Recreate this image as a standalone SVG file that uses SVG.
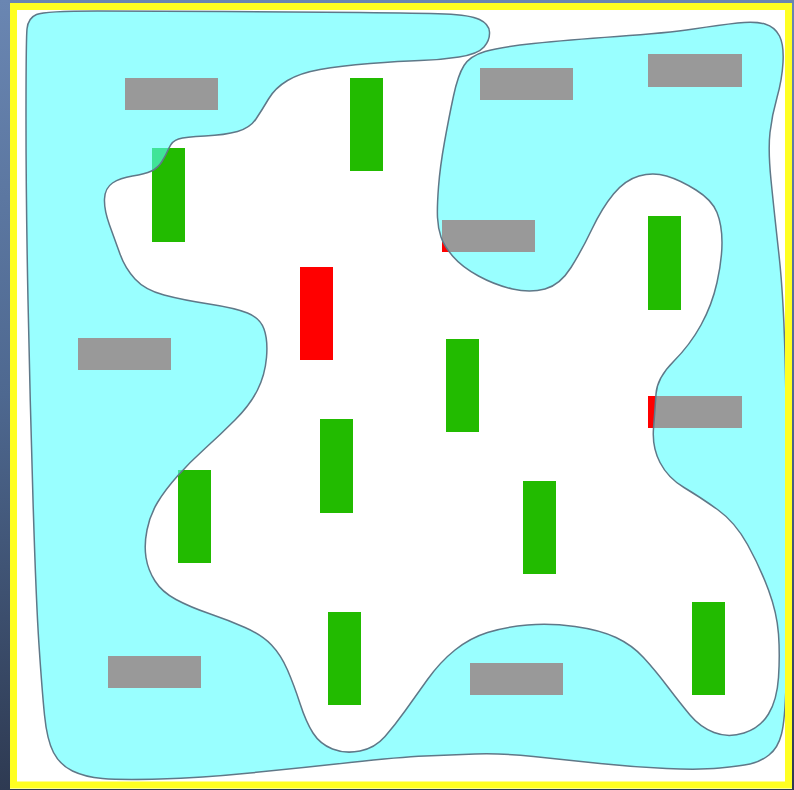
<svg xmlns="http://www.w3.org/2000/svg" width="794" height="790" viewBox="0 0 794 790">
<defs>
<linearGradient id="bg" x1="0" y1="0" x2="0" y2="1">
<stop offset="0" stop-color="#6a86b2"/>
<stop offset="0.5" stop-color="#4e6890"/>
<stop offset="1" stop-color="#2e3a52"/>
</linearGradient>
<style>
.g{fill:#22bb00}
.r{fill:#ff0000}
.zone{fill:#55ffff;fill-opacity:0.6;stroke:#5f7888;stroke-width:1.5;stroke-linejoin:round}
</style>
</defs>
<rect x="0" y="0" width="794" height="790" fill="url(#bg)"/>
<rect x="10" y="3" width="782" height="786" fill="#ffffff"/>
<g id="items">
<g id="green1"><rect class="g" x="350" y="78" width="33" height="93"/></g>
<g id="green2"><rect class="g" x="152" y="148" width="33" height="94"/></g>
<g id="green3"><rect class="g" x="648" y="216" width="33" height="94"/></g>
<g id="green4"><rect class="g" x="446" y="339" width="33" height="93"/></g>
<g id="green5"><rect class="g" x="320" y="419" width="33" height="94"/></g>
<g id="green6"><rect class="g" x="178" y="470" width="33" height="93"/></g>
<g id="green7"><rect class="g" x="523" y="481" width="33" height="93"/></g>
<g id="green8"><rect class="g" x="328" y="612" width="33" height="93"/></g>
<g id="green9"><rect class="g" x="692" y="602" width="33" height="93"/></g>
<g id="red0"><rect class="r" x="300" y="267" width="33" height="93"/></g>
<g id="red1"><rect class="r" x="125" y="78" width="93" height="32"/></g>
<g id="red2"><rect class="r" x="480" y="68" width="93" height="32"/></g>
<g id="red3"><rect class="r" x="648" y="54" width="94" height="33"/></g>
<g id="red4"><rect class="r" x="442" y="220" width="93" height="32"/></g>
<g id="red5"><rect class="r" x="78" y="338" width="93" height="32"/></g>
<g id="red6"><rect class="r" x="648" y="396" width="94" height="32"/></g>
<g id="red7"><rect class="r" x="108" y="656" width="93" height="32"/></g>
<g id="red8"><rect class="r" x="470" y="663" width="93" height="32"/></g>
</g>
<g id="zone">
<path class="zone" d="M26,120 Q26,40 27,29 Q28,18 36.5,14.5 Q45,11 97.5,11 Q150,11 225,11.5 Q300,12 360,12.5 Q420,13 445,14 Q470,15 479.5,19.5 Q489,24 489.5,32 Q490,40 484,47 Q478,54 459,57 Q440,60 420,60.5 Q400,61 370,63.5 Q340,66 320,69.5 Q300,73 287.5,80.5 Q275,88 268.5,99 Q262,110 256,119 Q250,128 237.5,131.5 Q225,135 205,136 Q185,137 178.5,139 Q172,141 169,148 Q166,155 162,161.5 Q158,168 151.5,171 Q145,174 132.5,176 Q120,178 112.5,183 Q105,188 104.5,199 Q104,210 109.5,225 Q115,240 120,254 Q125,268 135,279 Q145,290 164,295 Q183,300 209,304 Q235,308 247.5,313 Q260,318 264,329 Q268,340 266.5,357.5 Q265,375 257.5,390 Q250,405 235,420 Q220,435 205,448.5 Q190,462 177.5,476 Q165,490 157.5,502.5 Q150,515 147,530 Q144,545 146,557.5 Q148,570 155,581 Q162,592 176,599.5 Q190,607 209,613.5 Q228,620 245,627.5 Q262,635 271.5,645 Q281,655 287.5,670 Q294,685 300,703.5 Q306,722 313,733 Q320,744 332.5,749 Q345,754 360,751 Q375,748 385,736.5 Q395,725 405,711 Q415,697 427.5,679.5 Q440,662 455,650 Q470,638 487.5,632.5 Q505,627 527.5,625 Q550,623 575,626.5 Q600,630 616,637.5 Q632,645 643.5,657.5 Q655,670 667.5,686.5 Q680,703 690,715 Q700,727 714,732.5 Q728,738 744,733 Q760,728 768.5,714 Q777,700 778.5,677.5 Q780,655 778.5,634 Q777,613 768.5,590 Q760,567 747.5,544.5 Q735,522 717.5,509.5 Q700,497 684,487.5 Q668,478 660,462.5 Q652,447 653.5,428.5 Q655,410 656,394 Q657,378 673.5,361.5 Q690,345 701,325 Q712,305 717,282.5 Q722,260 722,242.5 Q722,225 717,212.5 Q712,200 696,190 Q680,180 666.5,176 Q653,172 639,176 Q625,180 613.5,194 Q602,208 592,229 Q582,250 571,267.5 Q560,285 545,289 Q530,293 512.5,289 Q495,285 478.5,276 Q462,267 453,256.5 Q444,246 441,237 Q438,228 437.5,217.5 Q437,207 438.5,187 Q440,167 444.5,142 Q449,117 453.5,96 Q458,75 464,65.5 Q470,56 485,51.5 Q500,47 533.5,43.5 Q567,40 617,36.5 Q667,33 693.5,29 Q720,25 737.5,23 Q755,21 765,24 Q775,27 779.5,36 Q784,45 783,62.5 Q782,80 777,97.5 Q772,115 770,132.5 Q768,150 771,180 Q774,210 779,255 Q784,300 785.5,375 Q787,450 787,550 Q787,650 786,685 Q785,720 781.5,734 Q778,748 769,755 Q760,762 750,764 Q740,766 720,768 Q700,770 666.5,768.5 Q633,767 600,763.5 Q567,760 533.5,756.5 Q500,753 475,754 Q450,755 425,756 Q400,757 350,762.5 Q300,768 250,773 Q200,778 160,779 Q120,780 102.5,778.5 Q85,777 72.5,771 Q60,765 53.5,752.5 Q47,740 44.5,715 Q42,690 39,645 Q36,600 33,500 Q30,400 28,300 Q26,200 26,120 Z"/>
</g>
<rect id="frame" x="13.5" y="6.5" width="775" height="778.5" fill="none" stroke="#ffff22" stroke-width="7"/>
</svg>
